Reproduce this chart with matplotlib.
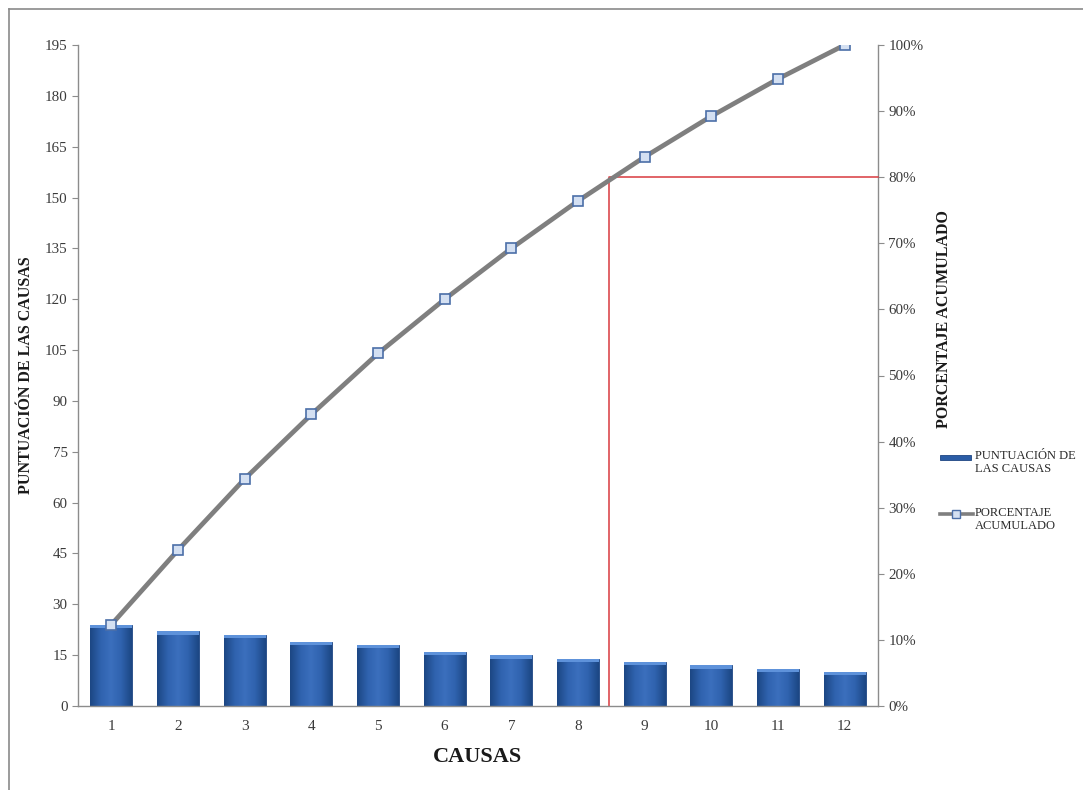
import numpy as np
import matplotlib
matplotlib.use("Agg")
import matplotlib.pyplot as plt
from matplotlib.lines import Line2D
from matplotlib.patches import Rectangle
from matplotlib.colors import LinearSegmentedColormap

# Pareto data
causas = [1, 2, 3, 4, 5, 6, 7, 8, 9, 10, 11, 12]
puntuacion = [24, 22, 21, 19, 18, 16, 15, 14, 13, 12, 11, 10]
left_ticks = list(range(0, 196, 15))
right_ticks = [0.0, 0.1, 0.2, 0.3, 0.4, 0.5, 0.6, 0.7, 0.8, 0.9, 1.0]
umbral = 0.80        # 80 % cut-off
corte_x = 8.47       # position of the vertical cut-off line

plt.rcParams['font.family'] = ['Liberation Serif', 'DejaVu Serif']

BAR_COLOR = '#2B5DA6'
BAR_EDGE = '#1E4682'
LINE_COLOR = '#7F7F7F'
MK_FACE = '#D4E0F2'
MK_EDGE = '#4C6FA8'

acumulado = np.cumsum(puntuacion)

W, H = 1083, 790
fig = plt.figure(figsize=(W / 100, H / 100), dpi=100)
fig.patch.set_facecolor('white')
ax = fig.add_axes([78 / W, 1 - 706 / H, 800 / W, 661 / H])
ax2 = ax.twinx()

x = np.array(causas)
bars = ax.bar(x, puntuacion, width=0.63, color=BAR_COLOR, edgecolor=BAR_EDGE,
              linewidth=0.6, zorder=2)

# Bevel-like shading inside each bar
cmap = LinearSegmentedColormap.from_list(
    'bevel', ['#1C4784', '#2F62AE', '#3B6FBD', '#2F62AE', '#1C4784'])
grad = np.tile(np.linspace(0, 1, 64), (64, 1))
for b in bars:
    x0, w, h = b.get_x(), b.get_width(), b.get_height()
    im = ax.imshow(grad, cmap=cmap, extent=[x0, x0 + w, 0, h], aspect='auto',
                   origin='lower', zorder=2.1)
    im.set_clip_path(b)
    ax.fill_between([x0, x0 + w], h - 1.0, h, color='#5E92DA', zorder=2.2, lw=0)

ax.set_xlim(0.5, 12.5)
ax.set_ylim(0, 195)
ax.set_yticks(left_ticks)
ax.set_xticks(causas)
ax2.set_ylim(0, 1)
ax2.set_yticks(right_ticks)
ax2.set_yticklabels([f'{int(round(t * 100))}%' for t in right_ticks])

# Cumulative line (in score units on the left axis)
ax.plot(x, acumulado, color=LINE_COLOR, lw=3.4, zorder=4, solid_capstyle='round',
        marker='s', markersize=6.5, markerfacecolor=MK_FACE,
        markeredgecolor=MK_EDGE, markeredgewidth=1.2)

# 80 % cut-off
ax2.plot([corte_x, corte_x, 12.5], [0, umbral, umbral], color='#D9393F', lw=1.1,
         zorder=3, clip_on=False)
ax.set_zorder(ax2.get_zorder() + 1)
ax.patch.set_visible(False)

for a in (ax, ax2):
    a.spines['top'].set_visible(False)
    for s in a.spines.values():
        s.set_color('#8C8C8C')
        s.set_linewidth(1.0)
    a.tick_params(axis='y', colors='#8C8C8C', labelcolor='#3A3A3A',
                  labelsize=10.8, length=4, width=0.8)
ax.tick_params(axis='x', length=0, labelsize=11, labelcolor='#3A3A3A', pad=10)
ax.spines['right'].set_visible(False)
ax2.spines['left'].set_visible(False)
ax2.spines['bottom'].set_visible(False)

# Axis titles
fig.text(478 / W, 1 - 757 / H, 'CAUSAS', ha='center', va='center',
         fontsize=16, fontweight='bold', color='#1A1A1A')
fig.text(26 / W, 1 - 375 / H, 'PUNTUACIÓN DE LAS CAUSAS', ha='center',
         va='center', rotation=90, fontsize=11.5, fontweight='bold', color='#1A1A1A')
fig.text(944 / W, 1 - 319 / H, 'PORCENTAJE ACUMULADO', ha='center',
         va='center', rotation=90, fontsize=11.5, fontweight='bold', color='#1A1A1A')

# Legend: key aligned with the first line of each two-line label
fig.add_artist(Rectangle((940 / W, 1 - 460 / H), 31 / W, 5 / H, transform=fig.transFigure,
                         facecolor=BAR_COLOR, edgecolor=BAR_EDGE, lw=0.6))
fig.add_artist(Line2D([940 / W, 973 / W], [1 - 514 / H, 1 - 514 / H], color=LINE_COLOR,
                      lw=2.6, transform=fig.transFigure))
fig.add_artist(Line2D([956 / W], [1 - 514 / H], marker='s', markersize=6,
                      markerfacecolor=MK_FACE, markeredgecolor=MK_EDGE,
                      transform=fig.transFigure))
for ytop, label in ((450, 'PUNTUACIÓN DE\nLAS CAUSAS'), (507, 'PORCENTAJE\nACUMULADO')):
    fig.text(975 / W, 1 - ytop / H, label, ha='left', va='top', fontsize=9,
             color='#2A2A2A', linespacing=1.15)

# Outer frame (top and left edges)
fig.add_artist(Line2D([9 / W, 9 / W], [0, 1 - 9 / H], color='#8A8A8A', lw=1.2,
                      transform=fig.transFigure))
fig.add_artist(Line2D([9 / W, 1], [1 - 9 / H, 1 - 9 / H], color='#8A8A8A',
                      lw=1.2, transform=fig.transFigure))

fig.savefig('out.png', dpi=100, facecolor='white')
